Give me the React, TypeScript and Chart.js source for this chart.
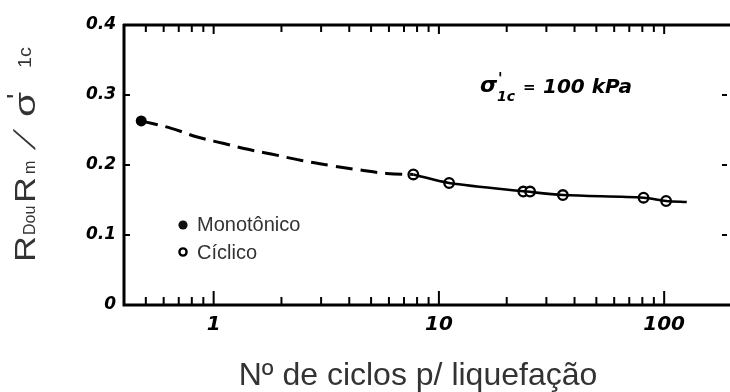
import React, { useEffect, useRef } from "react";
import { Chart, registerables } from "chart.js";

Chart.register(...registerables);

// ---------- data ----------
const monotonicCycles = [0.477];
const monotonicRatio = [0.263];

const cyclicCycles = [7.7, 11.1, 23.7, 25.4, 35.5, 81, 102];
const cyclicRatio = [0.1865, 0.1743, 0.1621, 0.1621, 0.1571, 0.1533, 0.1486];

const dashedCurveCycles = [0.477, 0.649, 0.838, 1.1, 1.42, 1.8, 2.49, 3.39, 4.45, 5.86, 7.7];
const dashedCurveRatio = [0.263, 0.2524, 0.2404, 0.231, 0.2224, 0.2157, 0.2061, 0.1986, 0.1929, 0.188, 0.1865];

const solidCurveCycles = [7.7, 11.1, 24.5, 35.5, 81, 102, 126];
const solidCurveRatio = [0.1865, 0.1743, 0.1621, 0.1571, 0.1533, 0.1486, 0.1471];

const xTickValues = [1, 10, 100];
const yTickValues = [0, 0.1, 0.2, 0.3, 0.4];
const xRange = [0.4, 196];
const yRange = [0, 0.4];

const legendLabels = ["Monotônico", "Cíclico"];
const xTitle = "Nº de ciclos p/ liquefação";
const annotationValue = "100 kPa";

// ---------- helpers ----------
const toPoints = (xs: number[], ys: number[]) => xs.map((x, i) => ({ x, y: ys[i] }));

const GRAY = "#333333";
const SANS = "'Liberation Sans', Arial, sans-serif";
const HAND = "'DejaVu Sans', sans-serif";

const framePlugin = {
  id: "frame",
  afterDraw(chart: any) {
    const { ctx, chartArea: a, scales } = chart;
    const x = scales.x;
    const y = scales.y;
    ctx.save();
    ctx.strokeStyle = "#000";
    ctx.lineCap = "butt";
    // axis lines
    ctx.lineWidth = 3;
    ctx.beginPath();
    ctx.moveTo(a.left, a.top - 1);
    ctx.lineTo(a.left, a.bottom);
    ctx.lineTo(a.right, a.bottom);
    ctx.moveTo(a.left - 1, a.top);
    ctx.lineTo(a.right, a.top);
    ctx.stroke();

    // log ticks bottom & top (inward)
    ctx.lineWidth = 2;
    const [xmin, xmax] = xRange;
    for (const d of [0.1, 1, 10, 100]) {
      for (let m = 1; m <= 9; m++) {
        const v = m * d;
        if (v <= xmin * 1.01 || v >= xmax) continue;
        const px = x.getPixelForValue(v);
        const major = m === 1;
        ctx.beginPath();
        ctx.moveTo(px, a.bottom);
        ctx.lineTo(px, a.bottom - (major ? 14 : 8));
        ctx.moveTo(px, a.top);
        ctx.lineTo(px, a.top + (major ? 9 : 7));
        ctx.stroke();
      }
    }
    // y ticks left & right (inward)
    for (const v of [0.1, 0.2, 0.3]) {
      const py = y.getPixelForValue(v);
      ctx.beginPath();
      ctx.moveTo(a.left, py);
      ctx.lineTo(a.left + 6, py);
      ctx.moveTo(a.right - 3, py);
      ctx.lineTo(a.right - 8, py);
      ctx.stroke();
    }

    // legend
    ctx.fillStyle = "#111";
    ctx.beginPath();
    ctx.arc(183, 225, 4.6, 0, Math.PI * 2);
    ctx.fill();
    ctx.lineWidth = 2.4;
    ctx.beginPath();
    ctx.arc(183, 252, 3.6, 0, Math.PI * 2);
    ctx.stroke();
    ctx.fillStyle = GRAY;
    ctx.font = `20px ${SANS}`;
    ctx.textAlign = "left";
    ctx.textBaseline = "alphabetic";
    ctx.fillText(legendLabels[0], 197, 231);
    ctx.fillText(legendLabels[1], 197, 259);

    // annotation sigma'1c = 100 kPa
    ctx.fillStyle = "#000";
    ctx.font = `italic bold 22px ${HAND}`;
    ctx.fillText("σ", 480, 92);
    ctx.font = `italic bold 15px ${HAND}`;
    ctx.fillText("'", 498, 84);
    ctx.font = `italic bold 14px ${HAND}`;
    ctx.fillText("1c", 497, 101);
    ctx.font = `bold 15px ${HAND}`;
    ctx.fillText("=", 523, 92);
    ctx.font = `italic bold 20px ${HAND}`;
    ctx.fillText(annotationValue, 543, 93);

    // x title
    ctx.fillStyle = GRAY;
    ctx.font = `32px ${SANS}`;
    ctx.textAlign = "center";
    ctx.fillText(xTitle, 418, 385);

    // y title (rotated rich text)
    ctx.save();
    ctx.translate(35, 262);
    ctx.rotate(-Math.PI / 2);
    ctx.textAlign = "left";
    const parts = [
      { t: "R", at: 0, s: 30, r: 0, sx: 1.2, skew: 0 },
      { t: "Dou", at: 27, s: 16, r: 0, sx: 1.0, skew: 0 },
      { t: "R", at: 59, s: 30, r: 0, sx: 1.2, skew: 0 },
      { t: "m", at: 88, s: 16, r: 0, sx: 1.0, skew: 0 },
      { t: "/", at: 112, s: 30, r: 0, sx: 1.0, skew: 0.6 },
      { t: "σ", at: 145, s: 30, r: 0, sx: 1.35, skew: 0 },
      { t: "'", at: 163, s: 28, r: 9, sx: 1.0, skew: 0 },
      { t: "1c", at: 194, s: 18, r: 4, sx: 1.1, skew: 0 },
    ];
    for (const p of parts) {
      ctx.save();
      ctx.translate(p.at, -p.r);
      ctx.transform(p.sx, 0, -p.skew, 1, 0, 0);
      ctx.font = `${p.s}px ${SANS}`;
      ctx.fillText(p.t, 0, 0);
      ctx.restore();
    }
    ctx.restore();

    ctx.restore();
  },
};

export default function App() {
  const ref = useRef<HTMLCanvasElement | null>(null);

  useEffect(() => {
    if (!ref.current) return;
    const chart = new Chart(ref.current, {
      type: "scatter",
      data: {
        datasets: [
          {
            type: "line",
            data: toPoints(dashedCurveCycles, dashedCurveRatio),
            borderColor: "#000",
            borderWidth: 3,
            borderDash: [17, 8],
            pointRadius: 0,
            tension: 0.4,
            fill: false,
          },
          {
            type: "line",
            data: toPoints(solidCurveCycles, solidCurveRatio),
            borderColor: "#000",
            borderWidth: 2.6,
            pointRadius: 0,
            tension: 0.3,
            fill: false,
          },
          {
            type: "scatter",
            data: toPoints(cyclicCycles, cyclicRatio),
            pointRadius: 4.8,
            pointBackgroundColor: "#fff",
            pointBorderColor: "#000",
            pointBorderWidth: 2.3,
          },
          {
            type: "scatter",
            data: toPoints(monotonicCycles, monotonicRatio),
            pointRadius: 5.5,
            pointBackgroundColor: "#000",
            pointBorderColor: "#000",
            pointBorderWidth: 0,
          },
        ],
      } as any,
      options: {
        responsive: false,
        animation: false,
        events: [],
        layout: { autoPadding: false, padding: { top: 25, left: 0, right: 0, bottom: 0 } },
        plugins: { legend: { display: false }, tooltip: { enabled: false } },
        scales: {
          x: {
            type: "logarithmic",
            min: xRange[0],
            max: xRange[1],
            afterFit: (s: any) => {
              s.height = 87;
              s.paddingLeft = 0;
              s.paddingRight = 0;
            },
            afterBuildTicks: (s: any) => {
              s.ticks = xTickValues.map((v) => ({ value: v }));
            },
            grid: { display: false, drawTicks: false },
            border: { display: false },
            ticks: {
              autoSkip: false,
              maxRotation: 0,
              padding: 8,
              color: "#000",
              font: { family: HAND, size: 20, style: "italic", weight: "bold" },
              callback: (v: any) => String(v),
            },
          },
          y: {
            type: "linear",
            min: yRange[0],
            max: yRange[1],
            afterFit: (s: any) => {
              s.width = 124;
              s.paddingTop = 0;
              s.paddingBottom = 0;
            },
            afterBuildTicks: (s: any) => {
              s.ticks = yTickValues.map((v) => ({ value: v }));
            },
            grid: { display: false, drawTicks: false },
            border: { display: false },
            ticks: {
              padding: 8,
              color: "#000",
              font: { family: HAND, size: 17, style: "italic", weight: "bold" },
              callback: (v: any) => (v === 0 ? "0" : Number(v).toFixed(1)),
            },
          },
        },
      } as any,
      plugins: [framePlugin],
    });
    return () => chart.destroy();
  }, []);

  return (
    <div style={{ position: "fixed", left: 0, top: 0, width: 730, height: 392, background: "#fff" }}>
      <canvas ref={ref} width={730} height={392} style={{ display: "block" }} />
    </div>
  );
}
